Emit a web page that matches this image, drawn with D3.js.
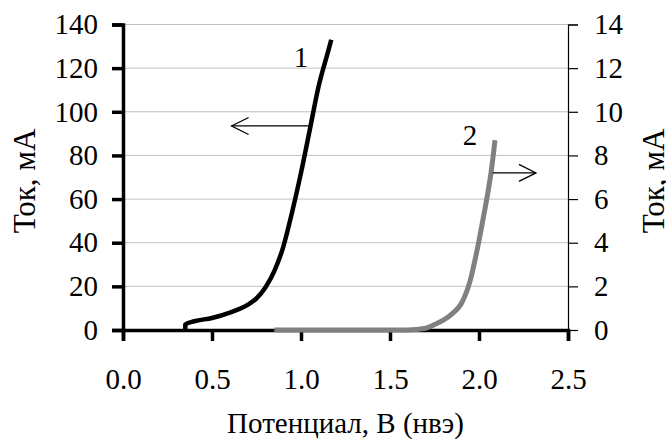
<!DOCTYPE html>
<html>
<head>
<meta charset="utf-8">
<script src="https://cdn.jsdelivr.net/npm/d3@7"></script>
<style>
  html, body { margin: 0; padding: 0; background: #fff; }
  svg { display: block; }
  text { font-family: "Liberation Serif", "Times New Roman", serif; fill: #000; }
</style>
</head>
<body>
<svg id="chart" width="666" height="446"></svg>
<script>
// Potential, V (RHE)
const potential1 = [0.35, 0.35, 0.40, 0.50, 0.60, 0.70, 0.75, 0.80, 0.85, 0.90, 0.95, 1.00, 1.05, 1.10, 1.15, 1.17];
// Current of curve 1, mA (left axis)
const current1 = [0, 2.5, 4, 5.5, 8, 11.5, 14.5, 19.5, 27, 38, 54, 72, 92, 112, 127, 133];

const potential2 = [0.85, 1.60, 1.70, 1.75, 1.80, 1.85, 1.90, 1.95, 2.00, 2.03, 2.05, 2.07, 2.09];
// Current of curve 2, mA (right axis)
const current2 = [0, 0, 0.08, 0.25, 0.45, 0.75, 1.2, 2.25, 4.1, 5.4, 6.3, 7.35, 8.7];

const xTicks = [0, 0.5, 1.0, 1.5, 2.0, 2.5];
const leftTicks = [0, 20, 40, 60, 80, 100, 120, 140];
const rightTicks = [0, 2, 4, 6, 8, 10, 12, 14];

const xTitle = "Потенциал, В (нвэ)";
const yTitle = "Ток, мА";

const W = 666, H = 446;
const m = { left: 123, right: 98, top: 24.5, bottom: 116 };
const x0 = m.left, x1 = W - m.right, y0 = H - m.bottom, y1 = m.top;
const FS = 29;

const svg = d3.select("#chart");

const x = d3.scaleLinear().domain([0, 2.5]).range([x0, x1]);
const yL = d3.scaleLinear().domain([0, 140]).range([y0, y1]);
const yR = d3.scaleLinear().domain([0, 14]).range([y0, y1]);

// horizontal gridlines
svg.append("g")
  .selectAll("line")
  .data(leftTicks.filter(d => d > 0))
  .join("line")
  .attr("x1", x0).attr("x2", x1)
  .attr("y1", d => yL(d)).attr("y2", d => yL(d))
  .attr("stroke", "#c0c0c0").attr("stroke-width", 1);

// right axis (thin)
const gR = svg.append("g").attr("transform", `translate(${x1},0)`)
  .call(d3.axisRight(yR).tickValues(rightTicks).tickSize(10).tickPadding(16).tickFormat(d3.format("d")));
gR.select(".domain").attr("stroke", "#000").attr("stroke-width", 1.2);
gR.selectAll(".tick line").attr("stroke", "#000").attr("stroke-width", 1.2);
gR.selectAll("text").attr("font-size", FS).style("font-family", "Liberation Serif");

// left axis (thick)
const gL = svg.append("g").attr("transform", `translate(${x0},0)`)
  .call(d3.axisLeft(yL).tickValues(leftTicks).tickSize(11).tickPadding(14).tickFormat(d3.format("d")));
gL.select(".domain").attr("stroke", "#000").attr("stroke-width", 3.5);
gL.selectAll(".tick line").attr("stroke", "#000").attr("stroke-width", 3.5);
gL.selectAll("text").attr("font-size", FS).style("font-family", "Liberation Serif");

// bottom axis (thick)
const gX = svg.append("g").attr("transform", `translate(0,${y0})`)
  .call(d3.axisBottom(x).tickValues(xTicks).tickSize(11).tickPadding(27).tickFormat(d3.format(".1f")));
gX.select(".domain").attr("stroke", "#000").attr("stroke-width", 3.5);
gX.selectAll(".tick line").attr("stroke", "#000").attr("stroke-width", 3.5);
gX.selectAll("text").attr("font-size", FS).style("font-family", "Liberation Serif");

// curves
const line1 = d3.line().x((d, i) => x(potential1[i])).y(d => yL(d)).curve(d3.curveMonotoneX);
const line2 = d3.line().x((d, i) => x(potential2[i])).y(d => yR(d)).curve(d3.curveMonotoneX);

svg.append("path").datum(current2)
  .attr("d", line2).attr("fill", "none")
  .attr("stroke", "#808080").attr("stroke-width", 5).attr("stroke-linejoin", "round");

svg.append("path").datum(current1)
  .attr("d", line1).attr("fill", "none")
  .attr("stroke", "#000").attr("stroke-width", 4.5).attr("stroke-linejoin", "round");

// curve numbers
svg.append("text").attr("x", x(1.00)).attr("y", yL(120.5)).attr("text-anchor", "middle")
  .attr("font-size", FS).text("1");
svg.append("text").attr("x", x(1.95)).attr("y", yR(8.5)).attr("text-anchor", "middle")
  .attr("font-size", FS).text("2");

// arrows pointing to each curve's axis
function arrow(xs, xe, yv) {
  const dir = Math.sign(xe - xs);
  const g = svg.append("g").attr("stroke", "#000").attr("stroke-width", 1.3).attr("fill", "none");
  g.append("line").attr("x1", xs).attr("x2", xe).attr("y1", yv).attr("y2", yv);
  g.append("path").attr("d",
    `M${xe - dir * 17},${yv - 8.5} L${xe},${yv} L${xe - dir * 17},${yv + 8.5}`);
}
arrow(x(1.05), x(0.61), yL(93.5));
arrow(x(2.077), x(2.32), yR(7.2));

// axis titles
svg.append("text").attr("x", (x0 + x1) / 2).attr("y", 433).attr("text-anchor", "middle")
  .attr("font-size", FS).text(xTitle);
svg.append("text").attr("transform", `translate(35,181) rotate(-90)`)
  .attr("text-anchor", "middle").attr("font-size", 31).text(yTitle);
svg.append("text").attr("transform", `translate(664,181) rotate(-90)`)
  .attr("text-anchor", "middle").attr("font-size", 31).text(yTitle);
</script>
</body>
</html>
